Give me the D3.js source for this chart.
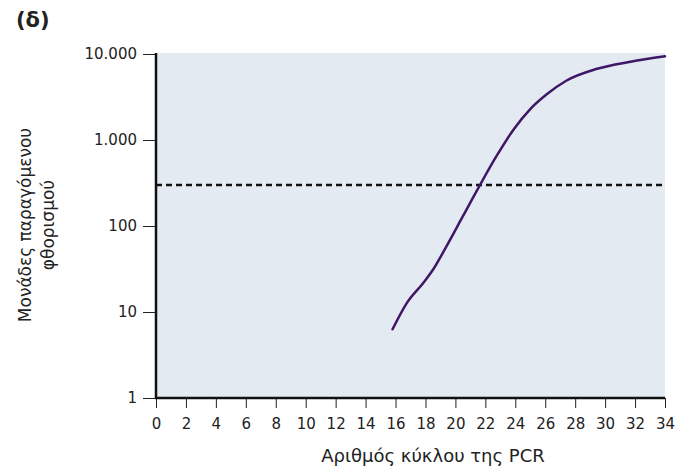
<!DOCTYPE html>
<html>
<head>
<meta charset="utf-8">
<script src="https://cdn.jsdelivr.net/npm/d3@7"></script>
<style>
  body { margin: 0; background: #fff; }
  text { font-family: "DejaVu Sans", Verdana, sans-serif; fill: #222; }
</style>
</head>
<body>
<svg id="chart" width="676" height="468"></svg>
<script>
// data
var cycles = [15.8, 16.75, 17.85, 18.5, 19.4, 20.5, 21.6, 22.75, 23.9, 25.0, 26.1, 27.4, 29.4, 31.7, 34];
var fluor  = [6.3, 12.7, 21.8, 31, 58, 130, 291, 652, 1335, 2290, 3400, 4890, 6680, 8130, 9400];
var threshold = 300;
var xTicks = d3.range(0, 35, 2);
var yTicks = [1, 10, 100, 1000, 10000];
var yTickLabels = ["1", "10", "100", "1.000", "10.000"];

var svg = d3.select("#chart");

var margin = {top: 54, right: 11, bottom: 70, left: 156},
    width = 676,
    height = 468;

var x = d3.scaleLinear()
    .domain([0, 34])
    .range([margin.left, width - margin.right]);

var y = d3.scaleLog()
    .domain([1, 10000])
    .range([height - margin.bottom, margin.top]);

// plot background
svg.append("rect")
    .attr("x", x(0))
    .attr("y", y(10000) - 1)
    .attr("width", x(34) - x(0))
    .attr("height", y(1) - y(10000) + 1)
    .attr("fill", "#e3eaf2");

// threshold
svg.append("line")
    .attr("x1", x(0)).attr("x2", x(34))
    .attr("y1", y(threshold)).attr("y2", y(threshold))
    .attr("stroke", "#111")
    .attr("stroke-width", 2.5)
    .attr("stroke-dasharray", "6,4");

// amplification curve
var pts = cycles.map(function(c, i) { return [c, fluor[i]]; });
var line = d3.line()
    .x(d => x(d[0]))
    .y(d => y(d[1]))
    .curve(d3.curveMonotoneX);

svg.append("path")
    .datum(pts)
    .attr("d", line)
    .attr("fill", "none")
    .attr("stroke", "#3f1766")
    .attr("stroke-width", 2.5)
    .attr("stroke-linecap", "round");

// axes
var xAxis = g => g
  .attr("transform", `translate(0,${y(1)})`)
  .call(d3.axisBottom(x).tickValues(xTicks).tickSize(10).tickPadding(10).tickFormat(d3.format("d")))
  .call(g => g.select(".domain").remove())
  .call(g => g.selectAll(".tick line").attr("stroke", "#222").attr("stroke-width", 1))
  .call(g => g.selectAll(".tick text").style("font-size", "15px").style("fill", "#222"));

var yAxis = g => g
  .attr("transform", `translate(${x(0)},0)`)
  .call(d3.axisLeft(y).tickValues(yTicks).tickSize(13).tickPadding(6)
        .tickFormat((d, i) => yTickLabels[i]))
  .call(g => g.select(".domain").remove())
  .call(g => g.selectAll(".tick line").attr("stroke", "#222").attr("stroke-width", 1))
  .call(g => g.selectAll(".tick text").style("font-size", "15px").style("fill", "#222"));

svg.append("g").call(xAxis);
svg.append("g").call(yAxis);

// heavy axis lines
svg.append("line")
    .attr("x1", x(0)).attr("x2", x(0))
    .attr("y1", y(10000) - 1).attr("y2", y(1) + 1)
    .attr("stroke", "#111").attr("stroke-width", 2.5);
svg.append("line")
    .attr("x1", x(0) - 1).attr("x2", x(34))
    .attr("y1", y(1)).attr("y2", y(1))
    .attr("stroke", "#111").attr("stroke-width", 2.5);

// labels
svg.append("text")
    .attr("x", 16).attr("y", 27)
    .style("font-size", "21px").style("font-weight", "bold")
    .text("(δ)");

svg.append("text")
    .attr("x", 433)
    .attr("y", 462)
    .attr("text-anchor", "middle")
    .style("font-size", "18px")
    .text("Αριθμός κύκλου της PCR");

var ylab = svg.append("text")
    .attr("transform", "translate(0,225) rotate(-90)")
    .attr("text-anchor", "middle")
    .style("font-size", "17px");
ylab.append("tspan").attr("x", 0).attr("y", 31).text("Μονάδες παραγόμενου");
ylab.append("tspan").attr("x", 0).attr("y", 54).text("φθορισμού");
</script>
</body>
</html>
